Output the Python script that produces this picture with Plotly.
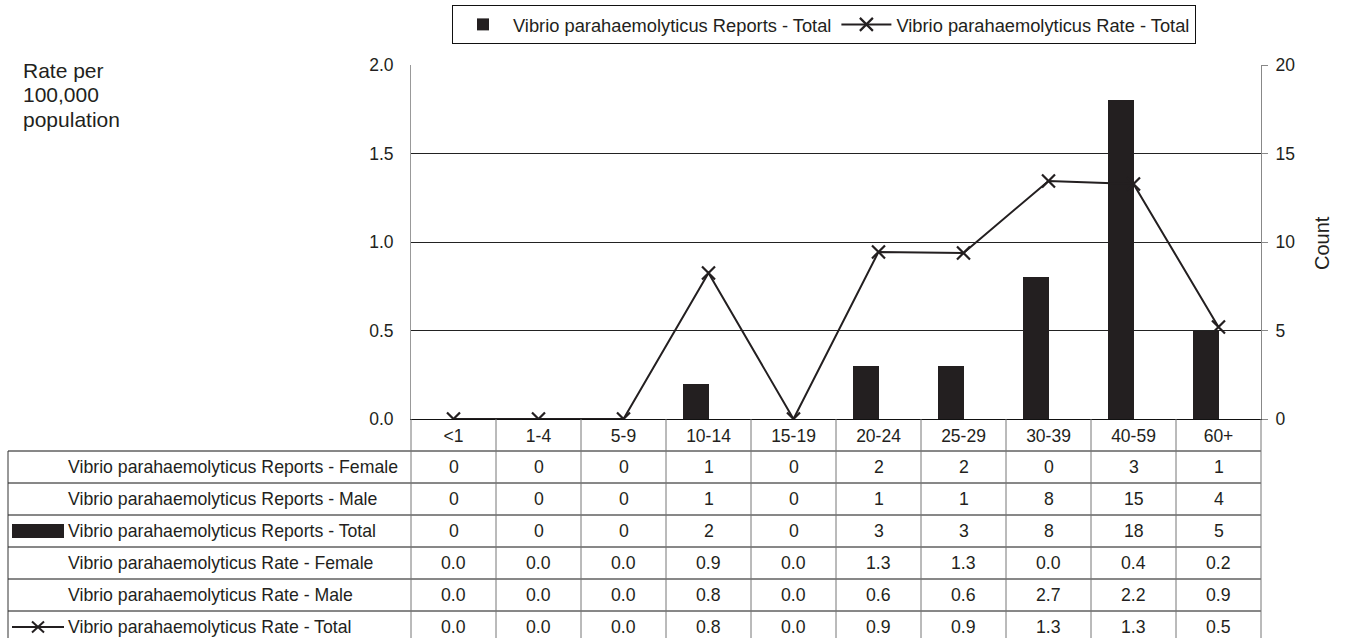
import plotly.graph_objects as go

# ---------------- data ----------------
age_groups = ["<1", "1-4", "5-9", "10-14", "15-19", "20-24", "25-29", "30-39", "40-59", "60+"]
reports_female = [0, 0, 0, 1, 0, 2, 2, 0, 3, 1]
reports_male = [0, 0, 0, 1, 0, 1, 1, 8, 15, 4]
reports_total = [0, 0, 0, 2, 0, 3, 3, 8, 18, 5]
rate_female = [0.0, 0.0, 0.0, 0.9, 0.0, 1.3, 1.3, 0.0, 0.4, 0.2]
rate_male = [0.0, 0.0, 0.0, 0.8, 0.0, 0.6, 0.6, 2.7, 2.2, 0.9]
rate_total = [0.0, 0.0, 0.0, 0.825, 0.0, 0.944, 0.938, 1.345, 1.328, 0.52]

row_labels = [
    "Vibrio parahaemolyticus Reports - Female",
    "Vibrio parahaemolyticus Reports - Male",
    "Vibrio parahaemolyticus Reports - Total",
    "Vibrio parahaemolyticus Rate - Female",
    "Vibrio parahaemolyticus Rate - Male",
    "Vibrio parahaemolyticus Rate - Total",
]
row_values = [reports_female, reports_male, reports_total, rate_female, rate_male, rate_total]
row_formats = ["{:.0f}", "{:.0f}", "{:.0f}", "{:.1f}", "{:.1f}", "{:.1f}"]
left_title_lines = ["Rate per", "100,000", "population"]

# ---------------- geometry ----------------
W, H = 1346, 638
FONT = "Liberation Sans, Arial, sans-serif"
INK = "#231f20"
X0, X1 = 411, 1261
YTOP, YBOT = 65, 419
ROW_H = 32
TABLE_TOP = 451
TABLE_LEFT = 8
TABLE_FS = 17.7
TICK_FS = 17.5


def px(x):
    return x / W


def py(y):
    return 1 - y / H


fig = go.Figure()
fig.add_trace(go.Bar(
    x=age_groups, y=reports_total, yaxis="y", width=0.3, offset=-0.3,
    marker=dict(color=INK, line=dict(width=0)),
    name="Vibrio parahaemolyticus Reports - Total",
))
fig.add_trace(go.Scatter(
    x=age_groups, y=rate_total, yaxis="y2", mode="lines+markers",
    line=dict(color=INK, width=2),
    marker=dict(symbol="x-thin", size=13, line=dict(width=2.2, color=INK), color=INK),
    name="Vibrio parahaemolyticus Rate - Total",
))

shapes = []
annotations = []

# table horizontal lines
for i in range(6):
    y = TABLE_TOP + i * ROW_H
    shapes.append(dict(type="line", xref="paper", yref="paper",
                       x0=px(TABLE_LEFT), x1=px(X1), y0=py(y), y1=py(y),
                       line=dict(color="#111", width=1)))
# table vertical lines
for k in range(len(age_groups) + 1):
    x = X0 + k * (X1 - X0) / len(age_groups)
    shapes.append(dict(type="line", xref="paper", yref="paper",
                       x0=px(x), x1=px(x), y0=py(YBOT), y1=py(H + 2),
                       line=dict(color="#777", width=1)))
shapes.append(dict(type="line", xref="paper", yref="paper",
                   x0=px(TABLE_LEFT), x1=px(TABLE_LEFT), y0=py(TABLE_TOP), y1=py(H + 2),
                   line=dict(color="#333", width=1)))

# table text
for r, (lab, vals, fmt) in enumerate(zip(row_labels, row_values, row_formats)):
    yc = TABLE_TOP + r * ROW_H + ROW_H / 2
    annotations.append(dict(text=lab, xref="paper", yref="paper", x=px(66), y=py(yc),
                            xanchor="left", yanchor="middle", showarrow=False,
                            font=dict(size=TABLE_FS, color=INK, family=FONT)))
    for c, v in zip(age_groups, vals):
        annotations.append(dict(text=fmt.format(v), xref="x", yref="paper", x=c, y=py(yc),
                                xanchor="center", yanchor="middle", showarrow=False,
                                font=dict(size=TABLE_FS, color=INK, family=FONT)))

# table legend keys
yc3 = TABLE_TOP + 2 * ROW_H + ROW_H / 2
shapes.append(dict(type="rect", xref="paper", yref="paper",
                   x0=px(12), x1=px(64), y0=py(yc3 - 7), y1=py(yc3 + 7),
                   fillcolor=INK, line=dict(width=0)))
yc6 = TABLE_TOP + 5 * ROW_H + ROW_H / 2
shapes.append(dict(type="line", xref="paper", yref="paper",
                   x0=px(12), x1=px(64), y0=py(yc6), y1=py(yc6),
                   line=dict(color=INK, width=2)))
for d in (-1, 1):
    shapes.append(dict(type="line", xref="paper", yref="paper",
                       x0=px(32), x1=px(44), y0=py(yc6 - 5.5 * d), y1=py(yc6 + 5.5 * d),
                       line=dict(color=INK, width=2)))

# axis titles
for i, line in enumerate(left_title_lines):
    annotations.append(dict(text=line, xref="paper", yref="paper",
                            x=px(21), y=py(70 + 25 * i), xanchor="left", yanchor="middle",
                            showarrow=False, font=dict(size=21, color=INK, family=FONT)))
annotations.append(dict(text="Count", xref="paper", yref="paper", x=px(1322), y=py(243),
                        xanchor="center", yanchor="middle", textangle=-90,
                        showarrow=False, font=dict(size=20, color=INK, family=FONT)))

fig.update_layout(
    width=W, height=H, autosize=False,
    margin=dict(l=0, r=0, t=0, b=0, autoexpand=False),
    paper_bgcolor="white", plot_bgcolor="white",
    font=dict(family=FONT, size=17, color=INK),
    showlegend=True,
    legend=dict(orientation="h", x=px(452), y=py(5), xanchor="left", yanchor="top",
                bordercolor="#111", borderwidth=1, font=dict(size=18.3, color=INK, family=FONT),
                itemwidth=50, tracegroupgap=0),
    xaxis=dict(type="category", domain=[px(X0), px(X1)], range=[-0.5, len(age_groups) - 0.5],
               showline=True, linecolor="#111", linewidth=1, ticks="", showgrid=False,
               tickfont=dict(size=TICK_FS, color=INK), ticklabelstandoff=1, fixedrange=True,
               automargin=False),
    yaxis=dict(domain=[py(YBOT), py(YTOP)], range=[0, 20], dtick=5, side="right",
               showline=True, linecolor="#888", ticks="outside", ticklen=6, tickcolor="#888",
               showgrid=True, gridcolor="#222", gridwidth=1, zeroline=False,
               tickfont=dict(size=TICK_FS, color=INK), ticklabelstandoff=4, automargin=False),
    yaxis2=dict(overlaying="y", side="left", range=[0, 2], dtick=0.5, tickformat=".1f",
                showline=True, linecolor="#999", ticks="", showgrid=False, zeroline=False,
                tickfont=dict(size=TICK_FS, color=INK), ticklabelstandoff=13, automargin=False),
    shapes=shapes,
    annotations=annotations,
    bargap=0,
)

fig.write_html("out.html", config={"displayModeBar": False})

# remove the default page margin so the figure sits at the window origin
with open("out.html", encoding="utf-8") as f:
    html = f.read()
html = html.replace("<head>", "<head><style>html,body{margin:0;padding:0;overflow:hidden;}</style>", 1)
with open("out.html", "w", encoding="utf-8") as f:
    f.write(html)
